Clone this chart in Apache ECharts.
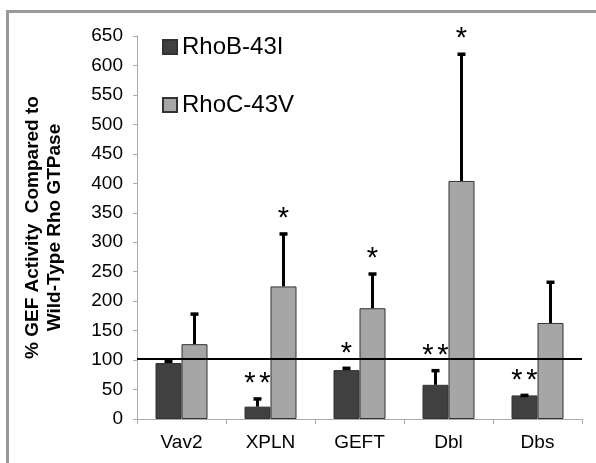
<!DOCTYPE html>
<html>
<head>
<meta charset="utf-8">
<script src="https://cdn.jsdelivr.net/npm/echarts@6/dist/echarts.min.js"></script>
<style>html,body{margin:0;padding:0;background:#fff}#c{width:596px;height:463px}</style>
</head>
<body>
<div id="c"></div>
<script>
const categories = ['Vav2', 'XPLN', 'GEFT', 'Dbl', 'Dbs'];
const rhoB = [95, 21, 83, 58, 40];
const rhoBErrTop = [101, 37, 89, 85, 43];
const rhoC = [127, 225, 188, 404, 163];
const rhoCErrTop = [181, 317, 249, 622, 235];
const starsB = [0, 2, 1, 2, 2];
const starsC = [0, 1, 1, 1, 0];
const refValue = 103;
const yTicks = {min: 0, max: 650, interval: 50};

const FONT = '"Liberation Sans", Arial, sans-serif';
const BAR_W = 26;

const chart = echarts.init(document.getElementById('c'));

function errSeries(values, tops, stars, offset) {
  return {
    type: 'custom',
    z: 5,
    data: values.map((v, i) => [i, v, tops[i], stars[i]]),
    encode: {x: 0, y: [1, 2]},
    renderItem: function (params, api) {
      const i = api.value(0);
      const base = api.coord([i, api.value(1)]);
      const top = api.coord([i, api.value(2)]);
      const x = base[0] + offset;
      const children = [
        {type: 'line', shape: {x1: x, y1: base[1], x2: x, y2: top[1] + 1}, style: {stroke: '#000', lineWidth: 3}},
        {type: 'rect', shape: {x: x - 4, y: top[1], width: 8, height: 3.5}, style: {fill: '#000'}}
      ];
      const n = api.value(3);
      for (let k = 0; k < n; k++) {
        const sx = n === 2 ? x + (k === 0 ? -7.5 : 7.5) : x;
        children.push({
          type: 'text',
          style: {text: '*', x: sx, y: top[1] - 13, align: 'center', verticalAlign: 'middle',
            font: '29px ' + FONT, fill: '#000'}
        });
      }
      return {type: 'group', children: children};
    }
  };
}

chart.setOption({
  animation: false,
  backgroundColor: '#fff',
  grid: {left: 137, right: 14, top: 36, bottom: 44, containLabel: false, outerBoundsMode: 'none'},
  legend: {
    orient: 'vertical', left: 157, top: 30, itemWidth: 14, itemHeight: 14, itemGap: 34,
    icon: 'rect',
    textStyle: {fontFamily: FONT, fontSize: 24, color: '#000'},
    data: ['RhoB-43I', 'RhoC-43V']
  },
  xAxis: {
    type: 'category', data: categories,
    axisLine: {lineStyle: {color: '#aaaaaa', width: 1}},
    axisTick: {show: true, alignWithLabel: false, length: 5, lineStyle: {color: '#aaaaaa'}},
    axisLabel: {fontFamily: FONT, fontSize: 19, color: '#000', margin: 14}
  },
  yAxis: {
    type: 'value', min: yTicks.min, max: yTicks.max, interval: yTicks.interval,
    name: '% GEF Activity  Compared to\nWild-Type Rho GTPase',
    nameLocation: 'middle', nameRotate: 90, nameGap: 71,
    nameTextStyle: {fontFamily: FONT, fontSize: 19, fontWeight: 'bold', color: '#000', lineHeight: 22},
    splitLine: {show: false},
    axisLine: {show: true, lineStyle: {color: '#aaaaaa', width: 1}},
    axisTick: {show: true, length: 4, lineStyle: {color: '#aaaaaa'}},
    axisLabel: {fontFamily: FONT, fontSize: 19, color: '#000', margin: 14}
  },
  series: [
    {
      name: 'RhoB-43I', type: 'bar', data: rhoB, barWidth: BAR_W, barGap: '0%',
      itemStyle: {color: '#404040', borderColor: '#333333', borderWidth: 1},
      markLine: {
        silent: true, symbol: 'none', label: {show: false},
        lineStyle: {color: '#000', width: 2, type: 'solid'},
        data: [{yAxis: refValue}]
      }
    },
    {
      name: 'RhoC-43V', type: 'bar', data: rhoC, barWidth: BAR_W, barGap: '0%',
      itemStyle: {color: '#a6a6a6', borderColor: '#333333', borderWidth: 1}
    },
    errSeries(rhoB, rhoBErrTop, starsB, -BAR_W / 2),
    errSeries(rhoC, rhoCErrTop, starsC, BAR_W / 2)
  ],
  graphic: [
    {type: 'polyline', shape: {points: [[7.5, 463], [7.5, 11.5], [596, 11.5]]},
      style: {stroke: '#999999', lineWidth: 3, fill: null}, z: 100}
  ]
});
</script>
</body>
</html>
